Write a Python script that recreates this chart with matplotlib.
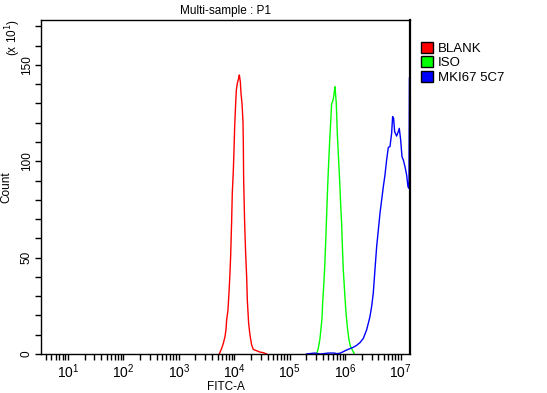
import numpy as np
import matplotlib.pyplot as plt
from matplotlib.patches import Patch
from matplotlib.ticker import LogLocator, MultipleLocator, NullFormatter

plt.rcParams['font.family'] = ['Liberation Sans', 'DejaVu Sans']

# histogram outlines, x given as log10(FITC-A), y in counts (x 10^1)
blank_logx = [3.731, 3.773, 3.803, 3.833, 3.851, 3.863, 3.887, 3.905, 3.923, 3.935,
              3.953, 3.965, 3.984, 3.996, 4.008, 4.026, 4.038, 4.056, 4.080, 4.092,
              4.110, 4.122, 4.140, 4.158, 4.164, 4.170, 4.188, 4.206, 4.224, 4.236,
              4.260, 4.284, 4.314, 4.344, 4.404, 4.464, 4.525, 4.585]
blank_cnt = [0, 2.9, 5.5, 9.0, 12.5, 17.6, 22.8, 31.5, 41.9, 50.5,
             68.7, 83.4, 95.5, 105.9, 118.0, 130.1, 137.0, 140.5, 143.1, 144.8,
             141.3, 135.3, 130.1, 120.6, 109.3, 90.3, 67.8, 52.2, 40.1, 28.0,
             15.9, 9.9, 4.7, 2.4, 1.7, 1.0, 0.7, 0]

iso_logx = [5.486, 5.516, 5.547, 5.565, 5.583, 5.595, 5.613, 5.631, 5.649, 5.667,
            5.685, 5.703, 5.721, 5.739, 5.757, 5.775, 5.793, 5.805, 5.817, 5.829,
            5.841, 5.859, 5.883, 5.901, 5.919, 5.937, 5.949, 5.967, 5.986, 6.004,
            6.022, 6.046, 6.070, 6.094, 6.130, 6.166]
iso_cnt = [0, 2.9, 8.1, 13.3, 18.5, 26.3, 34.9, 44.5, 57.4, 72.1,
           86.8, 99.0, 110.2, 119.7, 130.1, 130.9, 133.5, 136.1, 138.7, 134.4,
           130.1, 114.5, 100.7, 90.3, 78.2, 67.8, 57.4, 43.6, 34.9, 26.3,
           19.4, 12.5, 7.3, 4.2, 2.1, 0]

mki_logx = [5.30, 5.45, 5.55, 5.70, 5.80, 5.85, 5.907, 5.967, 6.028, 6.088,
            6.148, 6.208, 6.268, 6.328, 6.388, 6.418, 6.448, 6.478, 6.508, 6.538,
            6.569, 6.599, 6.629, 6.659, 6.689, 6.719, 6.749, 6.779, 6.809, 6.839,
            6.857, 6.875, 6.893, 6.929, 6.959, 6.977, 7.002, 7.026, 7.050, 7.080,
            7.110, 7.134, 7.152, 7.160, 7.163, 7.200]
mki_cnt = [0, 0.5, 0, 0.5, 0.5, 0.2, 0.4, 1.2, 2.1, 2.8,
           3.5, 4.5, 5.9, 8.1, 12.5, 15.9, 19.4, 24.6, 31.5, 43.6,
           55.7, 64.3, 73.0, 79.9, 86.8, 92.9, 100.7, 107.2, 107.6, 114.5,
           123.2, 122.3, 115.4, 113.1, 115.4, 117.1, 111.1, 102.4, 100.7, 97.2,
           92.9, 86.8, 86.0, 143.4, 143.4, 143.4]

labels = ['BLANK', 'ISO', 'MKI67 5C7']
colors = ['#ff0000', '#00ff00', '#0000ff']

fig = plt.figure(figsize=(5.47, 3.93), dpi=100)
ax = fig.add_axes([0.0755, 0.0992, 0.674, 0.8498])

for lx, cnt, c in zip([blank_logx, iso_logx, mki_logx],
                      [blank_cnt, iso_cnt, mki_cnt], colors):
    ax.plot(10 ** np.array(lx), cnt, color=c, lw=1.0)

ax.set_xscale('log')
ax.set_xlim(10 ** 0.52, 10 ** 7.17)
ax.set_ylim(0, 173.3)

ax.xaxis.set_major_locator(LogLocator(base=10, numticks=10))
ax.xaxis.set_minor_locator(LogLocator(base=10, subs=np.arange(2, 10), numticks=20))
ax.xaxis.set_minor_formatter(NullFormatter())
ax.yaxis.set_major_locator(MultipleLocator(50))
ax.yaxis.set_minor_locator(MultipleLocator(10))

ax.tick_params(axis='both', which='major', length=4, width=1, color='black',
               labelsize=10, pad=2)
ax.tick_params(axis='both', which='minor', length=4, width=1, color='black')
ax.tick_params(axis='y', which='both', length=4, labelsize=8.5)
for t in ax.get_yticklabels():
    t.set_rotation(90)
    t.set_va('center')

for s in ax.spines.values():
    s.set_color('black')
    s.set_linewidth(1)
ax.spines['right'].set_linewidth(1.6)

ax.set_title('Multi-sample : P1', fontsize=8.5, pad=4)
ax.set_xlabel('FITC-A', fontsize=8.5, labelpad=0)
ax.set_ylabel('Count', fontsize=8.5, labelpad=6)
fig.text(0.025, 0.905, r'(x 10$^{1}$)', rotation=90, fontsize=8.5,
         ha='center', va='center')

handles = [Patch(facecolor=c, edgecolor='black', lw=1) for c in colors]
ax.legend(handles, labels, loc='upper left', bbox_to_anchor=(1.03, 0.935),
          frameon=False, fontsize=9.5, handlelength=0.9, handleheight=0.9,
          handletextpad=0.35, labelspacing=0.12, borderaxespad=0,
          borderpad=0)

fig.savefig('out.png', dpi=100)
